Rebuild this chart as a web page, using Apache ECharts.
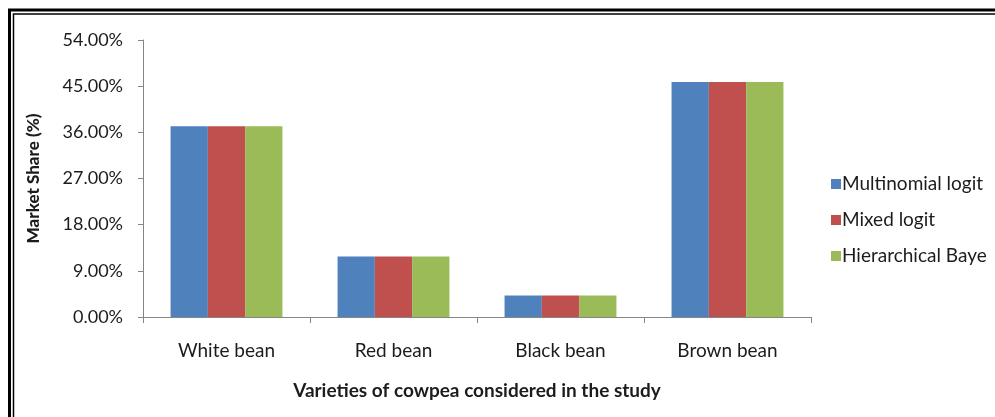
<!DOCTYPE html>
<html>
<head>
<meta charset="utf-8">
<script src="https://cdn.jsdelivr.net/npm/echarts@6/dist/echarts.min.js"></script>
<style>
  html, body { margin: 0; padding: 0; background: #fff; }
  #chart { width: 995px; height: 417px; }
</style>
</head>
<body>
<div id="chart"></div>
<script>
// Cowpea varieties and predicted market share (%) under three choice models
const categories = ['White bean', 'Red bean', 'Black bean', 'Brown bean'];
const multinomialLogit = [37.2, 11.8, 4.2, 45.8];
const mixedLogit = [37.2, 11.8, 4.2, 45.8];
const hierarchicalBayes = [37.2, 11.8, 4.2, 45.8];
const seriesNames = ['Multinomial logit', 'Mixed logit', 'Hierarchical Baye'];
const yTicks = { min: 0, max: 54, step: 9 };

const FONT = 'Lato';
const TEXT = '#1c1c1c';
const AXIS = '#868686';

const chart = echarts.init(document.getElementById('chart'), null, { renderer: 'canvas' });

const barSeries = [multinomialLogit, mixedLogit, hierarchicalBayes].map((vals, i) => ({
  name: seriesNames[i],
  type: 'bar',
  data: vals,
  barGap: '0%',
  barCategoryGap: '33%',
  itemStyle: { color: ['#4F81BD', '#C0504D', '#9BBB59'][i] }
}));

chart.setOption({
  animation: false,
  backgroundColor: '#fff',
  color: ['#4F81BD', '#C0504D', '#9BBB59'],
  grid: { left: 143, right: 184, top: 40, bottom: 100 },
  legend: {
    orient: 'vertical',
    left: 826,
    top: 169,
    itemWidth: 10,
    itemHeight: 10,
    itemGap: 16,
    icon: 'rect',
    textStyle: { fontFamily: FONT, fontSize: 19, color: TEXT, lineHeight: 20, padding: [0, 0, 0, -4] },
    data: seriesNames
  },
  xAxis: {
    type: 'category',
    data: categories,
    name: 'Varieties of cowpea considered in the study',
    nameLocation: 'middle',
    nameGap: 64,
    nameTextStyle: { fontFamily: FONT, fontSize: 19, fontWeight: 'bold', color: TEXT },
    axisLine: { lineStyle: { color: AXIS, width: 1 } },
    axisTick: { show: true, length: 6, lineStyle: { color: AXIS } },
    axisLabel: { fontFamily: FONT, fontSize: 19, color: TEXT, margin: 24 }
  },
  yAxis: {
    type: 'value',
    min: yTicks.min,
    max: yTicks.max,
    interval: yTicks.step,
    name: 'Market Share (%)',
    nameLocation: 'middle',
    nameRotate: 90,
    nameGap: 101,
    nameTextStyle: { fontFamily: FONT, fontSize: 17, fontWeight: 900, color: TEXT },
    splitLine: { show: false },
    axisLine: { show: true, lineStyle: { color: AXIS, width: 1 } },
    axisTick: { show: true, length: 5, lineStyle: { color: AXIS } },
    axisLabel: {
      fontFamily: FONT, fontSize: 18, color: TEXT, margin: 20,
      formatter: v => v.toFixed(2) + '%'
    }
  },
  graphic: [
    {
      type: 'rect', silent: true, z: 100,
      shape: { x: 9.5, y: 10, width: 3000, height: 3000 },
      style: { fill: null, stroke: '#000', lineWidth: 3 }
    },
    {
      type: 'rect', silent: true, z: 100,
      shape: { x: 13.5, y: 14, width: 3000, height: 3000 },
      style: { fill: null, stroke: '#000', lineWidth: 1.5 }
    }
  ],
  series: barSeries
});
</script>
</body>
</html>
